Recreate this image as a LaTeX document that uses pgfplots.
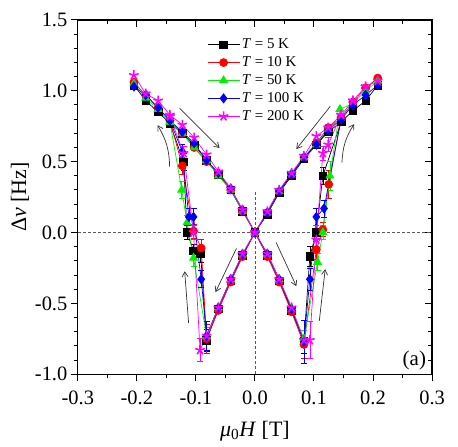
\documentclass[border=0pt]{standalone}
\usepackage{fontspec}
\setmainfont{Liberation Serif}
\usepackage{pgfplots}
\pgfplotsset{compat=1.18}
\usetikzlibrary{arrows.meta}
\definecolor{cRed}{HTML}{FF0000}
\definecolor{cGreen}{HTML}{00F000}
\definecolor{cBlue}{HTML}{0000FF}
\definecolor{cMag}{HTML}{FF00FF}
\definecolor{cArrow}{HTML}{333333}

\pgfplotsset{
  errs/.style={error bars/.cd, y dir=both, y explicit,
    error bar style={line width=0.6bp},
    error mark options={rotate=90, mark size=3bp, line width=0.6bp}},
  frame/.style={
    scale only axis, width=355bp, height=355bp,
    xmin=-0.3, xmax=0.3, ymin=-1, ymax=1.5,
    xtick={-0.3,-0.2,-0.1,0,0.1,0.2,0.3}, minor x tick num=1,
    ytick={-1,-0.5,0,0.5,1,1.5}, minor y tick num=4,
    major tick length=7bp, minor tick length=4bp,
    axis line style={line width=1.2bp},
    every tick/.style={black, line width=1bp},
  },
}
\tikzset{arr/.style={cArrow, line width=0.7bp, -{Straight Barb[length=5bp,width=6bp]}}}

\begin{document}
\begin{tikzpicture}
% mirrored ticks on top and right, pointing inward
\begin{axis}[frame, name=bx, tick align=inside, xtick pos=right, ytick pos=right,
  xticklabels={}, yticklabels={}]
\end{axis}
\begin{axis}[
  frame, name=ax,
  tick align=outside, xtick pos=left, ytick pos=left,
  xticklabel style={yshift=-6bp, /pgf/number format/.cd, fixed, fixed zerofill, precision=1, assume math mode=true},
  yticklabel style={/pgf/number format/.cd, fixed, fixed zerofill, precision=1, assume math mode=true},
  tick label style={font=\fontsize{20.5bp}{24bp}\selectfont},
  label style={font=\fontsize{22bp}{26bp}\selectfont},
  xlabel={\textit{μ}\textsubscript{0}\textit{H} [T]},
  ylabel={Δ\textit{ν} [Hz]},
  xlabel style={yshift=-10bp},
  ylabel style={yshift=-1bp},
  legend style={at={(0.362,0.955)}, anchor=north west, draw=none, fill=none,
    font=\fontsize{15bp}{17bp}\selectfont, row sep=2.5bp, inner sep=1bp},
  legend cell align=left,
  legend image code/.code={\draw[mark repeat=2,mark phase=2,#1] plot coordinates {(0bp,0bp) (16bp,0bp) (32bp,0bp)};},
]
% dashed guides
\draw[gray!70!black, line width=0.7bp, dash pattern=on 3bp off 2bp] (axis cs:-0.3,0) -- (axis cs:0.3,0);
\draw[gray!70!black, line width=0.7bp, dash pattern=on 3bp off 2bp] (axis cs:0,-1) -- (axis cs:0,0.3);

% T = 5 K
\addplot[black, line width=0.7bp, mark=square*, mark size=3.8bp, mark options={solid, fill=black}, errs] coordinates {
(-0.205,1.04) (-0.185,0.93) (-0.164,0.85) (-0.144,0.77) (-0.123,0.70) (-0.103,0.62) (-0.082,0.51) (-0.062,0.41) (-0.041,0.30) (-0.021,0.15) (0,0)
(0.021,-0.16) (0.041,-0.34) (0.062,-0.55) (0.083,-0.77) +- (0,0.08) (0.093,-0.17) +- (0,0.07) (0.104,0.0) +- (0,0.05) (0.115,0.40) +- (0,0.06)
(0.146,0.78) (0.166,0.86) (0.1875,0.93) (0.208,1.04) (0.1875,0.93) (0.166,0.86) (0.146,0.78) (0.124,0.71) (0.104,0.62) (0.083,0.52)
(0.062,0.40) (0.041,0.28) (0.021,0.13) (0,0) (-0.021,-0.16) (-0.041,-0.34) (-0.062,-0.54) (-0.082,-0.76) +- (0,0.08)
(-0.092,-0.15) +- (0,0.06) (-0.104,-0.13) +- (0,0.05) (-0.115,0.0) +- (0,0.05) (-0.121,0.50) +- (0,0.06) (-0.144,0.77)
};
\addlegendentry{\textit{T} = 5 K}

% T = 10 K
\addplot[cRed, line width=0.7bp, mark=*, mark size=4bp, mark options={solid, fill=cRed}, errs] coordinates {
(-0.205,1.06) (-0.185,0.97) (-0.164,0.88) (-0.144,0.79) (-0.123,0.70) (-0.103,0.60) (-0.082,0.50) (-0.062,0.41) (-0.041,0.30) (-0.021,0.15) (0,0)
(0.021,-0.17) (0.041,-0.35) (0.062,-0.56) (0.083,-0.79) +- (0,0.10) (0.104,-0.12) +- (0,0.07) (0.115,0.02) +- (0,0.05) (0.125,0.34) +- (0,0.10)
(0.146,0.81) (0.166,0.92) (0.1875,1.02) (0.208,1.09) (0.1875,1.02) (0.166,0.92) (0.146,0.81) (0.124,0.74) (0.104,0.63) (0.083,0.53)
(0.062,0.41) (0.041,0.29) (0.021,0.14) (0,0) (-0.021,-0.17) (-0.041,-0.35) (-0.062,-0.55) (-0.082,-0.75) +- (0,0.10)
(-0.091,-0.11) +- (0,0.06) (-0.104,0.01) +- (0,0.05) (-0.123,0.47) +- (0,0.06) (-0.144,0.79)
};
\addlegendentry{\textit{T} = 10 K}

% T = 50 K
\addplot[cGreen, line width=0.7bp, mark=triangle*, mark size=4.6bp, mark options={solid, fill=cGreen}, errs] coordinates {
(-0.205,1.05) (-0.185,0.95) (-0.164,0.87) (-0.144,0.78) (-0.123,0.70) (-0.103,0.60) (-0.082,0.51) (-0.062,0.40) (-0.041,0.30) (-0.021,0.15) (0,0)
(0.021,-0.15) (0.041,-0.33) (0.062,-0.53) (0.083,-0.75) +- (0,0.06) (0.106,-0.21) +- (0,0.06) (0.115,0.0) +- (0,0.05) (0.127,0.40) +- (0,0.10)
(0.144,0.87) (0.166,0.91) (0.1875,1.00) (0.208,1.07) (0.1875,1.00) (0.166,0.91) (0.146,0.81) (0.124,0.73) (0.104,0.62) (0.083,0.53)
(0.062,0.42) (0.041,0.29) (0.021,0.14) (0,0) (-0.021,-0.15) (-0.041,-0.33) (-0.062,-0.53) (-0.082,-0.73) +- (0,0.06)
(-0.104,-0.18) +- (0,0.06) (-0.115,0.07) +- (0,0.05) (-0.124,0.30) +- (0,0.06) (-0.144,0.78)
};
\addlegendentry{\textit{T} = 50 K}

% T = 100 K
\addplot[cBlue, line width=0.7bp, mark=diamond*, mark size=4.6bp, mark options={solid, fill=cBlue}, errs] coordinates {
(-0.205,1.03) (-0.185,0.97) (-0.164,0.88) (-0.144,0.79) (-0.123,0.71) (-0.103,0.63) (-0.082,0.51) (-0.062,0.42) (-0.041,0.31) (-0.021,0.16) (0,0)
(0.021,-0.15) (0.041,-0.33) (0.062,-0.54) (0.083,-0.77) +- (0,0.15) (0.093,-0.33) +- (0,0.08) (0.104,0.11) +- (0,0.06) (0.117,0.17) +- (0,0.06)
(0.146,0.80) (0.166,0.90) (0.1875,0.97) (0.208,1.04) (0.1875,0.97) (0.166,0.90) (0.146,0.80) (0.124,0.72) (0.104,0.62) (0.083,0.53)
(0.062,0.41) (0.041,0.29) (0.021,0.14) (0,0) (-0.021,-0.155) (-0.041,-0.33) (-0.062,-0.53) (-0.082,-0.73) +- (0,0.10)
(-0.091,-0.33) +- (0,0.06) (-0.104,0.11) +- (0,0.06) (-0.112,0.11) +- (0,0.06) (-0.123,0.57) +- (0,0.05) (-0.144,0.79)
};
\addlegendentry{\textit{T} = 100 K}

% T = 200 K
\addplot[cMag, line width=0.7bp, mark=star, mark size=5bp, mark options={solid, line width=1.6bp}, errs] coordinates {
(-0.205,1.11) (-0.185,0.98) (-0.164,0.93) (-0.144,0.83) (-0.123,0.76) (-0.103,0.67) (-0.082,0.55) (-0.062,0.43) (-0.041,0.31) (-0.021,0.16) (0,0)
(0.021,-0.15) (0.041,-0.33) (0.062,-0.53) (0.083,-0.76) (0.093,-0.76) +- (0,0.13) (0.104,-0.05) +- (0,0.10) (0.115,0.56) +- (0,0.05) (0.124,0.62) +- (0,0.05)
(0.146,0.83) (0.166,0.93) (0.1875,1.03) (0.208,1.07) (0.1875,1.03) (0.166,0.93) (0.146,0.83) (0.124,0.74) (0.104,0.68) (0.083,0.54)
(0.062,0.42) (0.041,0.30) (0.021,0.15) (0,0) (-0.021,-0.15) (-0.041,-0.33) (-0.062,-0.53) (-0.082,-0.73)
(-0.093,-0.83) +- (0,0.08) (-0.104,0.0) +- (0,0.05) (-0.121,0.56) +- (0,0.05) (-0.144,0.82)
};
\addlegendentry{\textit{T} = 200 K}

% sweep arrows
\draw[arr] (axis cs:-0.1276,0.877) -- (axis cs:-0.060,0.596);
\draw[arr] (axis cs:-0.1445,0.463) to[bend right=15] (axis cs:-0.165,0.757);
\draw[arr] (axis cs:0.1276,0.890) -- (axis cs:0.0701,0.589);
\draw[arr] (axis cs:0.1474,0.493) to[bend left=15] (axis cs:0.168,0.765);
\draw[arr] (axis cs:-0.0313,-0.112) -- (axis cs:-0.0668,-0.421);
\draw[arr] (axis cs:-0.1124,-0.638) -- (axis cs:-0.119,-0.2735);
\draw[arr] (axis cs:0.0358,-0.070) -- (axis cs:0.0701,-0.379);
\draw[arr] (axis cs:0.109,-0.624) -- (axis cs:0.119,-0.259);

\node[font=\fontsize{21bp}{25bp}\selectfont] at (axis cs:0.27,-0.9) {(a)};
\end{axis}
% page margins as in the reference
\path ([xshift=26bp]ax.east) ([yshift=20bp]ax.north) ([xshift=-78bp]ax.west) ([yshift=-72bp]ax.south);
\end{tikzpicture}
\end{document}
